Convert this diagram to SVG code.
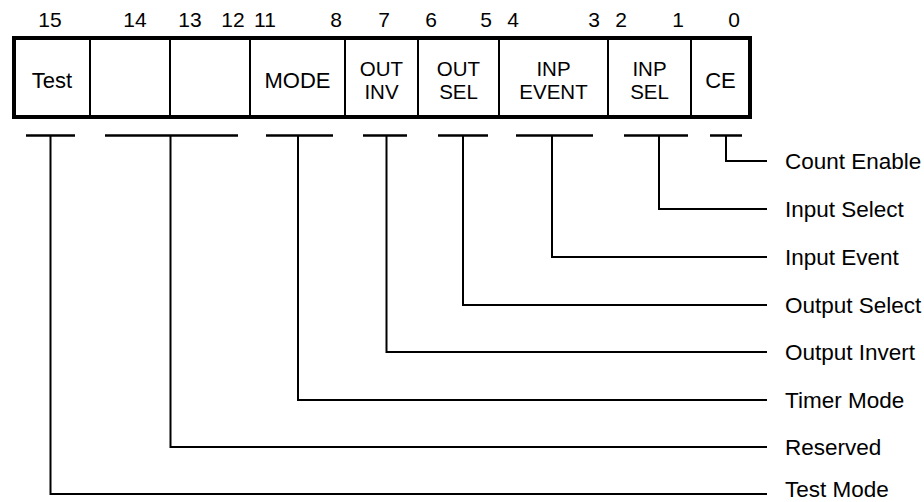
<svg xmlns="http://www.w3.org/2000/svg" width="924" height="502" viewBox="0 0 924 502">
<style>
text{font-family:"Liberation Sans",Arial,sans-serif;fill:#000}
.num{font-size:21px;text-anchor:middle}
.cell{font-size:22px;text-anchor:middle}
.cell2{font-size:20.5px;text-anchor:middle}
.lbl{font-size:22.5px}
.div{stroke:#000;stroke-width:2}
.bar{stroke:#000;stroke-width:2.5;fill:none}
.con{stroke:#000;stroke-width:2;fill:none}
</style>
<rect width="924" height="502" fill="#fff"/>
<g id="bit-numbers">
<text class="num" x="50" y="27">15</text>
<text class="num" x="135" y="27">14</text>
<text class="num" x="190" y="27">13</text>
<text class="num" x="233" y="27">12</text>
<text class="num" x="265" y="27">11</text>
<text class="num" x="336" y="27">8</text>
<text class="num" x="384" y="27">7</text>
<text class="num" x="431" y="27">6</text>
<text class="num" x="486" y="27">5</text>
<text class="num" x="513" y="27">4</text>
<text class="num" x="594" y="27">3</text>
<text class="num" x="621" y="27">2</text>
<text class="num" x="678" y="27">1</text>
<text class="num" x="734" y="27">0</text>
</g>
<g id="register">
<rect x="14" y="38" width="736" height="79" fill="#fff" stroke="#000" stroke-width="4"/>
<line class="div" x1="90" y1="38" x2="90" y2="117"/>
<line class="div" x1="170" y1="38" x2="170" y2="117"/>
<line class="div" x1="250" y1="38" x2="250" y2="117"/>
<line class="div" x1="345" y1="38" x2="345" y2="117"/>
<line class="div" x1="418" y1="38" x2="418" y2="117"/>
<line class="div" x1="499" y1="38" x2="499" y2="117"/>
<line class="div" x1="608" y1="38" x2="608" y2="117"/>
<line class="div" x1="691" y1="38" x2="691" y2="117"/>
</g>
<g id="field-test"><text class="cell" x="52" y="88">Test</text></g>
<g id="field-reserved14"></g>
<g id="field-reserved13-12"></g>
<g id="field-mode"><text class="cell" x="297.5" y="88">MODE</text></g>
<g id="field-outinv"><text class="cell2" x="381.5" y="76">OUT</text><text class="cell2" x="381.5" y="99">INV</text></g>
<g id="field-outsel"><text class="cell2" x="458.5" y="76">OUT</text><text class="cell2" x="458.5" y="99">SEL</text></g>
<g id="field-inpevent"><text class="cell2" x="553.5" y="76">INP</text><text class="cell2" x="553.5" y="99">EVENT</text></g>
<g id="field-inpsel"><text class="cell2" x="649.5" y="76">INP</text><text class="cell2" x="649.5" y="99">SEL</text></g>
<g id="field-ce"><text class="cell" x="720.5" y="88">CE</text></g>
<g id="connectors">
<line class="bar" x1="26" y1="135.5" x2="75" y2="135.5"/>
<line class="bar" x1="105" y1="135.5" x2="238" y2="135.5"/>
<line class="bar" x1="266" y1="135.5" x2="333" y2="135.5"/>
<line class="bar" x1="363" y1="135.5" x2="407" y2="135.5"/>
<line class="bar" x1="438" y1="135.5" x2="488" y2="135.5"/>
<line class="bar" x1="516" y1="135.5" x2="593" y2="135.5"/>
<line class="bar" x1="624" y1="135.5" x2="688" y2="135.5"/>
<line class="bar" x1="710" y1="135.5" x2="742" y2="135.5"/>
<polyline class="con" points="726,135.5 726,161 767,161"/>
<polyline class="con" points="659,135.5 659,209 767,209"/>
<polyline class="con" points="552,135.5 552,257 767,257"/>
<polyline class="con" points="463,135.5 463,305 767,305"/>
<polyline class="con" points="386.5,135.5 386.5,352 767,352"/>
<polyline class="con" points="298,135.5 298,400 767,400"/>
<polyline class="con" points="170.5,135.5 170.5,447 767,447"/>
<polyline class="con" points="50.5,135.5 50.5,494 767,494"/>
</g>
<g id="labels">
<text class="lbl" x="785" y="169">Count Enable</text>
<text class="lbl" x="785" y="217">Input Select</text>
<text class="lbl" x="785" y="265">Input Event</text>
<text class="lbl" x="785" y="313">Output Select</text>
<text class="lbl" x="785" y="360">Output Invert</text>
<text class="lbl" x="785" y="408">Timer Mode</text>
<text class="lbl" x="785" y="455">Reserved</text>
<text class="lbl" x="785" y="497">Test Mode</text>
</g>
</svg>
